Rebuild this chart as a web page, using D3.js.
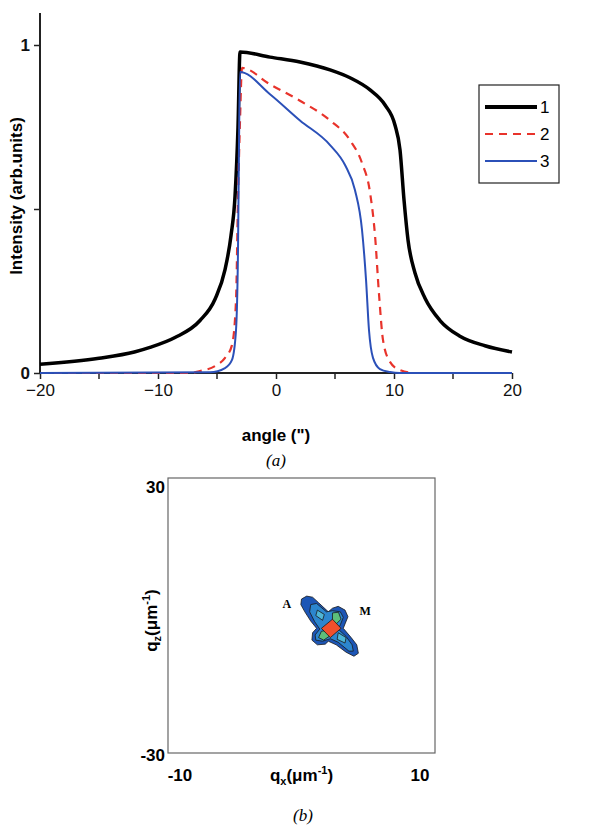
<!DOCTYPE html>
<html><head><meta charset="utf-8">
<script src="https://cdn.jsdelivr.net/npm/d3@7"></script>
<style>body{margin:0;background:#fff} svg{display:block}</style>
</head><body><svg id="c" width="607" height="837"></svg>
<script>
// ---------- panel (a) data ----------
const seriesNames = ["1", "2", "3"];
const seriesColors = ["#000000", "#e8332b", "#2b50b8"];
const curve1 = [[-20,0.027],[-15,0.045],[-12,0.064],[-10.68,0.078],[-8.56,0.108],[-6.44,0.16],[-5.17,0.225],[-4.32,0.315],[-3.81,0.42],[-3.47,0.54],[-3.22,0.75],[-3.05,0.979],
  [-0.51,0.963],[2.03,0.948],[4.58,0.924],[6.27,0.9],[7.97,0.863],[9.24,0.817],[10.08,0.756],[10.51,0.68],[10.85,0.527],[11.19,0.405],[11.78,0.305],[12.63,0.228],[13.9,0.16],[15.59,0.112],[17.71,0.083],[20,0.064]];
const curve2 = [[-20,0],[-7.29,0],[-6.44,0.006],[-5.17,0.021],[-4.32,0.046],[-3.73,0.085],[-3.39,0.22],[-3.22,0.53],[-3.05,0.77],[-2.88,0.93],
  [-0.51,0.88],[2.03,0.83],[4.58,0.77],[6.27,0.71],[7.29,0.64],[7.97,0.55],[8.39,0.42],[8.73,0.24],[9.07,0.1],[9.66,0.034],[10.51,0.009],[11.78,0],[20,0]];
const curve3 = [[-20,0],[-5.59,0.002],[-4.32,0.015],[-3.73,0.04],[-3.39,0.13],[-3.22,0.375],[-3.14,0.68],[-3.05,0.918],
  [-0.51,0.85],[2.03,0.77],[4.58,0.695],[5.85,0.634],[6.69,0.558],[7.29,0.436],[7.63,0.284],[7.88,0.131],[8.22,0.046],[8.81,0.012],[9.66,0.003],[10.5,0],[20,0]];
const series = [curve1, curve2, curve3];
const xTicks = [-20, -10, 0, 10, 20];
const xMinorTicks = [-15, -5, 5, 15];
const yTicks = [0, 0.5, 1];
const yTickLabels = ["0", "", "1"];

// ---------- panel (b) data (contour polygons in qx, qz units) ----------
const qxTicks = [-10, 10];
const qzTicks = [-30, 30];
const contourOuter = [[0.00,3.59],[0.39,4.23],[0.83,3.99],[1.28,2.79],[2.01,0.80],[2.32,1.59],[2.75,2.00],[3.26,1.18],[3.48,-0.26],[3.26,-1.84],[3.13,-2.80],[3.72,-4.82],[4.14,-6.40],[4.26,-8.24],[3.93,-8.89],[3.34,-8.01],[2.60,-6.40],[2.01,-5.61],[1.78,-6.25],[1.19,-6.40],[0.78,-5.37],[0.83,-3.76],[1.13,-2.80],[0.69,-1.21],[0.25,0.80],[-0.05,2.38]];
const contourMid = [[0.69,2.38],[1.13,2.63],[1.87,0.80],[2.32,1.04],[2.91,0.80],[3.13,-0.40],[2.91,-2.01],[2.75,-2.97],[3.34,-4.57],[3.79,-6.40],[3.88,-7.77],[3.55,-7.77],[2.75,-5.84],[2.16,-5.06],[1.58,-5.61],[1.07,-5.37],[1.02,-4.24],[1.37,-2.97],[0.99,-1.37],[0.61,0.80]];
const bandNE = [[2.32,0.56],[2.77,0.71],[2.96,-0.81],[2.60,-1.84],[2.32,-1.21]];
const bandSW = [[1.49,-3.44],[2.01,-3.21],[2.07,-4.57],[1.66,-5.37],[1.28,-4.82]];
const bandNW = [[1.19,1.18],[1.71,0.23],[1.58,-1.05],[1.07,-0.02]];
const bandSE = [[2.75,-3.76],[3.34,-4.82],[3.26,-6.01],[2.67,-5.20]];
const contourCore = [[2.32,-0.81],[2.96,-2.80],[2.16,-4.82],[1.49,-2.80]];
const contourLayers = [
  {pts: contourOuter, fill: "#1d56b6"},
  {pts: contourMid, fill: "#2c86cf"},
  {pts: bandNW, fill: "#4fb6d6"},
  {pts: bandSE, fill: "#4fb6d6"},
  {pts: bandNE, fill: "#5cbf7a"},
  {pts: bandSW, fill: "#5cbf7a"},
  {pts: contourCore, fill: "#f0502c"}
];
const pointLabels = [{t: "A", qx: -1.09, qz: 1.63}, {t: "M", qx: 4.76, qz: 0.11}];

// ---------- drawing ----------
const svg = d3.select("#c");
const sans = "'Liberation Sans', Arial, sans-serif";
const serif = "'Liberation Serif', 'Times New Roman', serif";

const x = d3.scaleLinear().domain([-20, 20]).range([40, 512]);
const y = d3.scaleLinear().domain([0, 1]).range([373, 45]);

// axes
const gx = svg.append("g").attr("transform", `translate(0,${y(0)})`)
  .call(d3.axisBottom(x).tickValues(xTicks).tickSize(6).tickSizeOuter(0).tickPadding(5).tickFormat(d3.format("d")));
gx.append("g").selectAll("line").data(xMinorTicks).join("line")
  .attr("x1", d => x(d)).attr("x2", d => x(d)).attr("y1", 0).attr("y2", 6).attr("stroke", "#222").attr("stroke-width", 1.5);
gx.select(".domain").attr("stroke", "#222").attr("stroke-width", 2).attr("d", `M${x(-20)},0H${x(20)}`);
gx.selectAll(".tick line").attr("stroke", "#222").attr("stroke-width", 1.5);
gx.selectAll(".tick text").attr("font-family", sans).attr("font-size", 17).attr("fill", "#111");

const gy = svg.append("g").attr("transform", `translate(${x(-20)},0)`)
  .call(d3.axisLeft(y).tickValues(yTicks).tickSize(6).tickSizeOuter(0).tickPadding(4).tickFormat((d, i) => yTickLabels[i]));
gy.select(".domain").attr("stroke", "#222").attr("stroke-width", 2).attr("d", `M0,${y(0)}V13`);
gy.selectAll(".tick line").attr("stroke", "#222").attr("stroke-width", 1.5);
gy.selectAll(".tick text").attr("font-family", sans).attr("font-size", 17).attr("font-weight", "bold").attr("fill", "#111");

svg.append("text").attr("transform", `translate(22,196) rotate(-90)`)
  .attr("text-anchor", "middle").attr("font-family", sans).attr("font-size", 17).attr("font-weight", "bold")
  .text("Intensity (arb.units)");
svg.append("text").attr("x", x(0)).attr("y", 441).attr("text-anchor", "middle")
  .attr("font-family", sans).attr("font-size", 17).attr("font-weight", "bold").text('angle (")');
svg.append("text").attr("x", x(0)).attr("y", 466).attr("text-anchor", "middle")
  .attr("font-family", serif).attr("font-size", 17).attr("font-style", "italic").text("(a)");

// curves
const line = d3.line().x(d => x(d[0])).y(d => y(d[1])).curve(d3.curveMonotoneX);
const widths = [3.5, 2.2, 2];
const dashes = [null, "8,6", null];
series.forEach((s, i) => {
  svg.append("path").datum(s).attr("d", line).attr("fill", "none")
    .attr("stroke", seriesColors[i]).attr("stroke-width", widths[i])
    .attr("stroke-dasharray", dashes[i]).attr("stroke-linejoin", "round");
});

// legend
const lg = svg.append("g");
lg.append("rect").attr("x", 479).attr("y", 85).attr("width", 80).attr("height", 98)
  .attr("fill", "#fff").attr("stroke", "#222").attr("stroke-width", 1.2);
seriesNames.forEach((n, i) => {
  const yy = 107 + i * 27;
  lg.append("line").attr("x1", 485).attr("x2", 537).attr("y1", yy).attr("y2", yy)
    .attr("stroke", seriesColors[i]).attr("stroke-width", i === 0 ? 4 : 2.2)
    .attr("stroke-dasharray", dashes[i]);
  lg.append("text").attr("x", 540).attr("y", yy + 6).attr("font-family", sans).attr("font-size", 17).text(n);
});

// ---------- panel (b) ----------
const qx = d3.scaleLinear().domain([-10, 10]).range([168, 435]);
const qz = d3.scaleLinear().domain([-30, 30]).range([753, 478]);

svg.append("rect").attr("x", qx(-10)).attr("y", qz(30)).attr("width", qx(10) - qx(-10)).attr("height", qz(-30) - qz(30))
  .attr("fill", "none").attr("stroke", "#666").attr("stroke-width", 1.2);

svg.append("g").selectAll("text").data(qzTicks).join("text")
  .attr("x", qx(-10) - 3).attr("y", d => d > 0 ? qz(d) + 15 : qz(d) + 8)
  .attr("text-anchor", "end").attr("font-family", sans).attr("font-size", 17).attr("font-weight", "bold")
  .text(d => d);
svg.append("g").selectAll("text").data(qxTicks).join("text")
  .attr("x", d => d < 0 ? qx(d) + 12 : qx(d) - 15).attr("y", qz(-30) + 28)
  .attr("text-anchor", "middle").attr("font-family", sans).attr("font-size", 17).attr("font-weight", "bold")
  .text(d => d);

const qxLab = svg.append("text").attr("x", qx(0)).attr("y", qz(-30) + 28).attr("text-anchor", "middle")
  .attr("font-family", sans).attr("font-size", 17).attr("font-weight", "bold");
qxLab.append("tspan").text("q");
qxLab.append("tspan").attr("font-size", 11).attr("dy", 4).text("x");
qxLab.append("tspan").attr("dy", -4).text("(\u03bcm");
qxLab.append("tspan").attr("font-size", 11).attr("dy", -7).text("-1");
qxLab.append("tspan").attr("dy", 7).text(")");

const qzLab = svg.append("text").attr("transform", `translate(157,${qz(0) + 5}) rotate(-90)`).attr("text-anchor", "middle")
  .attr("font-family", sans).attr("font-size", 17).attr("font-weight", "bold");
qzLab.append("tspan").text("q");
qzLab.append("tspan").attr("font-size", 11).attr("dy", 4).text("z");
qzLab.append("tspan").attr("dy", -4).text("(\u03bcm");
qzLab.append("tspan").attr("font-size", 11).attr("dy", -7).text("-1");
qzLab.append("tspan").attr("dy", 7).text(")");

svg.append("text").attr("x", 303).attr("y", 821).attr("text-anchor", "middle")
  .attr("font-family", serif).attr("font-size", 17).attr("font-style", "italic").text("(b)");

const poly = d3.line().x(d => qx(d[0])).y(d => qz(d[1])).curve(d3.curveLinearClosed);
svg.append("g").selectAll("path").data(contourLayers).join("path")
  .attr("d", d => poly(d.pts)).attr("fill", d => d.fill)
  .attr("stroke", "#1a1a1a").attr("stroke-width", 0.8).attr("stroke-linejoin", "round");
svg.append("g").selectAll("text").data(pointLabels).join("text")
  .attr("x", d => qx(d.qx)).attr("y", d => qz(d.qz)).attr("text-anchor", "middle")
  .attr("font-family", serif).attr("font-size", 12).attr("font-weight", "bold").text(d => d.t);
</script></body></html>
